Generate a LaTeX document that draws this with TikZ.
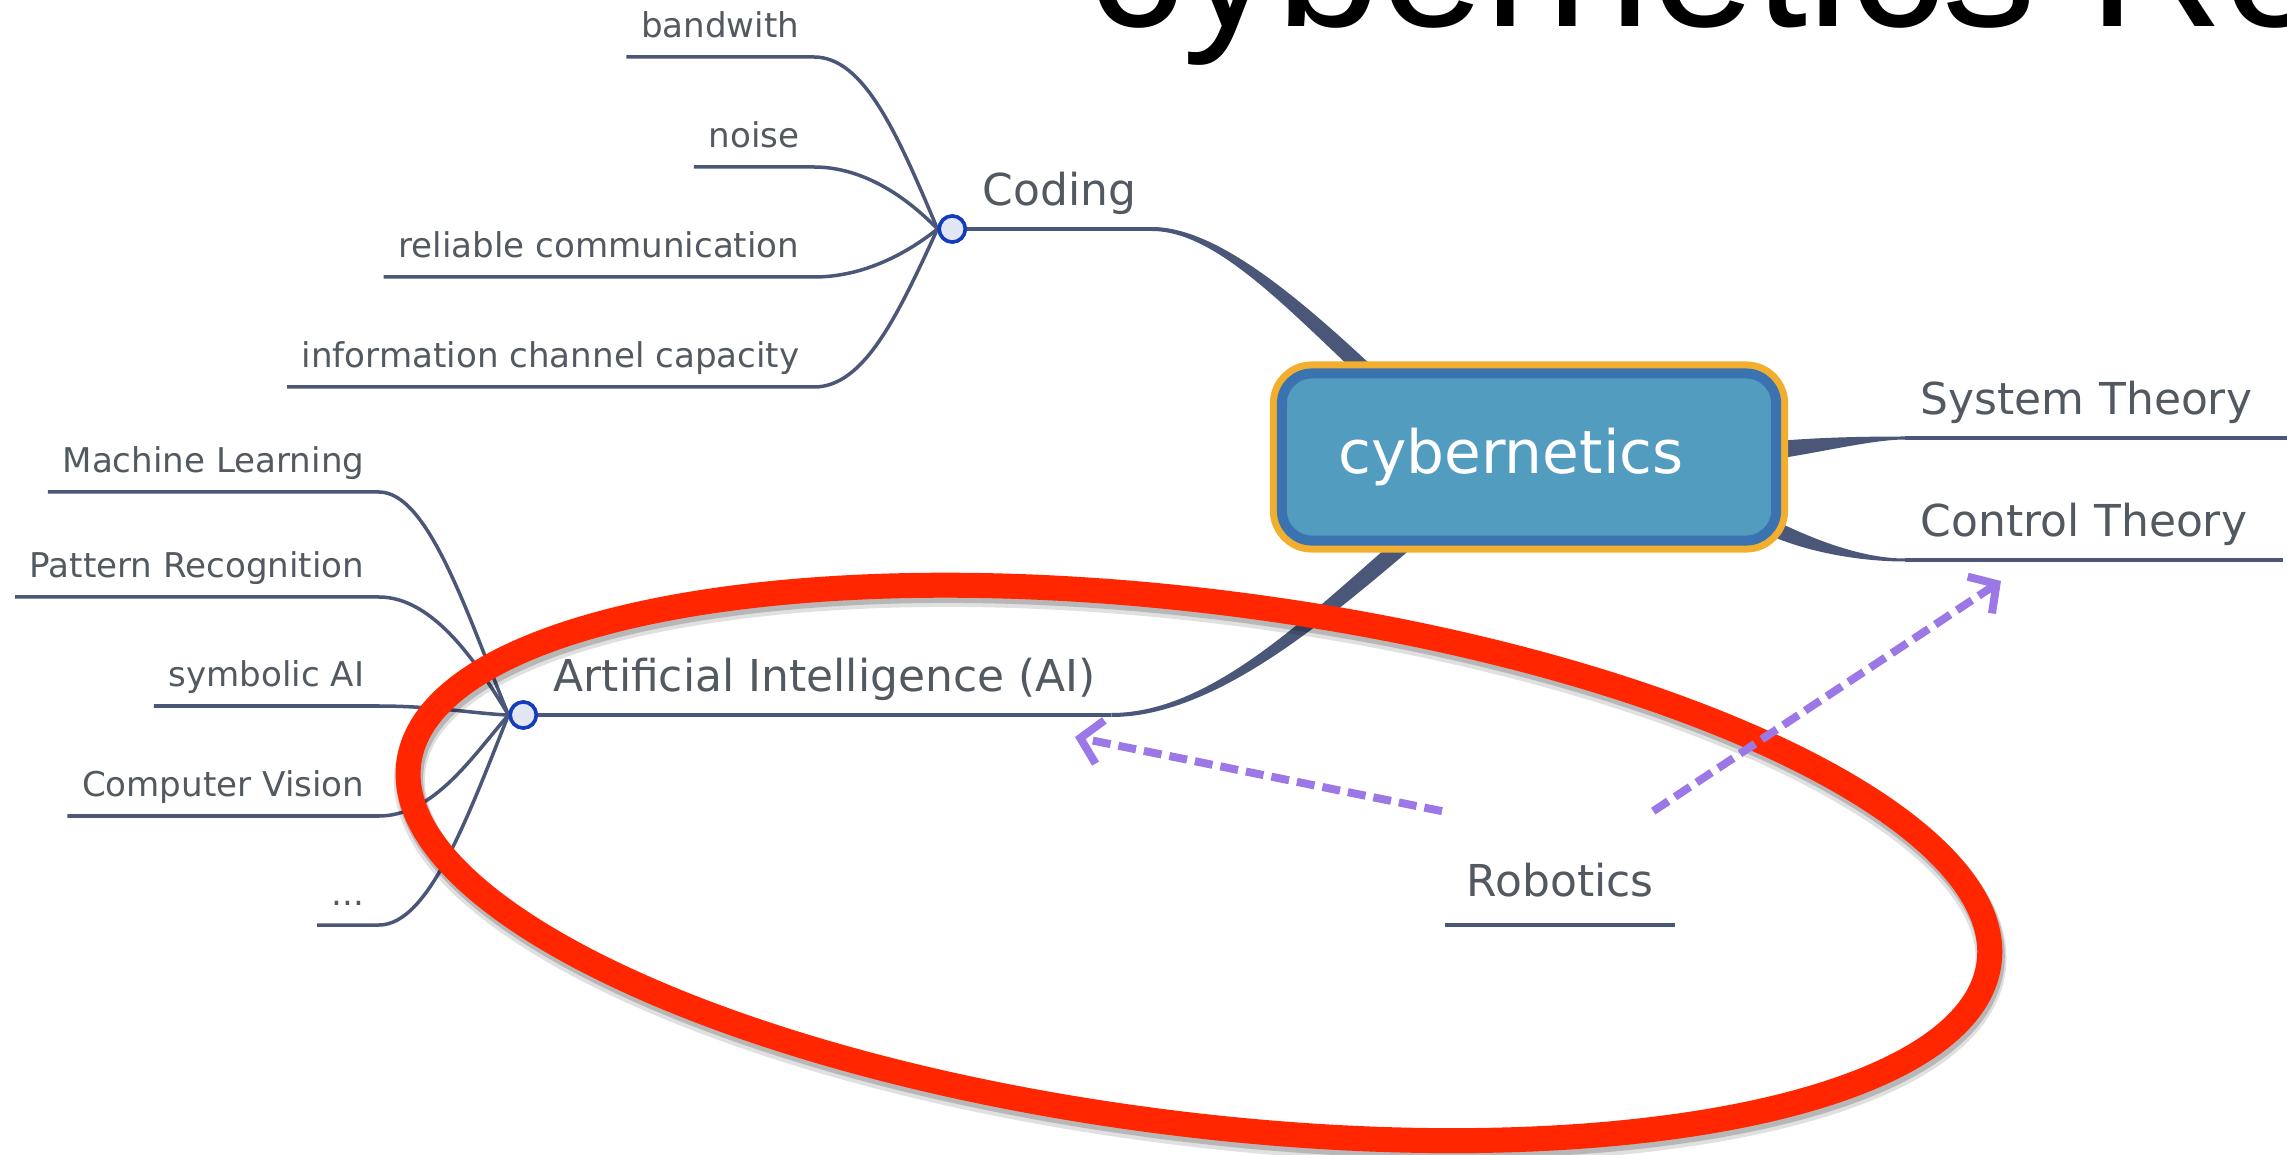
\documentclass[tikz,border=0pt]{standalone}
\usepackage{fontspec}
\setmainfont{DejaVu Sans}
\newfontfamily\headfont{Liberation Sans}
\usetikzlibrary{arrows.meta,calc}
\definecolor{limbcol}{RGB}{74,87,120}
\definecolor{labelcol}{RGB}{82,89,96}
\definecolor{dotblue}{RGB}{20,60,190}
\definecolor{dotfill}{RGB}{226,230,242}
\definecolor{hubfill}{RGB}{82,156,192}
\definecolor{hubblue}{RGB}{58,115,176}
\definecolor{huborange}{RGB}{242,174,46}
\definecolor{ringred}{RGB}{255,38,0}
\definecolor{hintviolet}{RGB}{156,119,230}
\tikzstyle{hub} = [rectangle, rounded corners=0.3cm, minimum width=4.94cm, minimum height=1.67cm, fill=hubfill, draw=hubblue, line width=0.1cm, preaction={draw=huborange, line width=0.24cm}, text=white, font=\fontsize{17}{20}\selectfont]
\tikzstyle{topic} = [text=labelcol, font=\fontsize{12.5}{15}\selectfont, text depth=0pt, inner ysep=0.225cm, inner xsep=0.15cm, anchor=south west]
\tikzstyle{leaf} = [text=labelcol, font=\fontsize{9.7}{12}\selectfont, text depth=0pt, inner ysep=0.185cm, inner xsep=0.14cm, anchor=south east]
\tikzstyle{fan} = [circle, draw=dotblue, fill=dotfill, line width=0.035cm, minimum size=0.26cm, inner sep=0pt]
\tikzset{twig/.style = {draw=limbcol, line width=0.035cm},
  hint/.style = {draw=hintviolet, line width=0.08cm, dash pattern=on 0.18cm off 0.08cm,
    -{Straight Barb[length=0.2cm,width=0.44cm]}},
  ring/.style = {draw=ringred, line width=0.25cm}
}
% tapered main branch: start, control, control, end, half width at start, half width at end
\newcommand{\branchline}[6]{%
  \fill[limbcol] ($(#1)!#5!90:(#2)$) .. controls ($(#2)!#5!-90:(#1)$) and ($(#3)!#6!90:(#4)$) .. ($(#4)!#6!-90:(#3)$)
    -- ($(#4)!#6!90:(#3)$) .. controls ($(#3)!#6!-90:(#4)$) and ($(#2)!#5!90:(#1)$) .. ($(#1)!#5!-90:(#2)$) -- cycle;}

\begin{document}
\begin{tikzpicture}[x=0.01cm, y=-0.01cm]
            \useasboundingbox (0,0) rectangle (2287,1155);
            \fill[white] (0,0) rectangle (2287,1155);

            % title
            \node[anchor=base west, inner sep=0pt, font=\headfont\fontsize{53.3}{60}\selectfont] (title) at (1088,27) {cybernetics Ro};

            % first level
            \node[topic] (coding) at (967,229) {Coding};
            \node[topic] (ai) at (538,715) {Artificial Intelligence (AI)};
            \node[topic, text width=3.7cm, align=left] (sys) at (1905,438) {System Theory};
            \node[topic, text width=3.46cm, align=left] (ctl) at (1905,560) {Control Theory};
            \node[topic, inner ysep=0.28cm, inner xsep=0.21cm] (rob) at (1445,925) {Robotics};

            % second level
            \node[leaf] (bw) at (814,57) {bandwith};
            \node[leaf] (noise) at (814,167) {noise};
            \node[leaf] (rel) at (814,277) {reliable communication};
            \node[leaf] (info) at (814,387) {information channel capacity};
            \node[leaf] (ml) at (379,492) {Machine Learning};
            \node[leaf] (pr) at (379,597) {Pattern Recognition};
            \node[leaf] (sym) at (379,706) {symbolic AI};
            \node[leaf] (cv) at (379,816) {Computer Vision};
            \node[leaf] (more) at (379,925) {...};

            % hub side ends
            \coordinate (hub-cod) at (1372,377);
            \coordinate (hub-ai) at (1420,530);
            \coordinate (hub-sys) at (1760,452);
            \coordinate (hub-ctl) at (1760,522);

            % main branches
            \branchline{coding.south east}{1215,229}{1290,300}{hub-cod}{0.02cm}{0.08cm}
            \branchline{ai.south east}{1215,715}{1320,615}{hub-ai}{0.02cm}{0.085cm}
            \branchline{sys.south west}{1870,438}{1810,446}{hub-sys}{0.015cm}{0.09cm}
            \branchline{ctl.south west}{1860,560}{1805,545}{hub-ctl}{0.015cm}{0.08cm}

            \node[hub] (cyb) at (1529,457) {\raisebox{-0.05cm}{cybernetics}\hspace*{0.36cm}};

            % underlines
            \draw[twig] (coding.south west) -- (coding.south east);
            \draw[twig] (ai.south west) -- (ai.south east);
            \draw[twig] (sys.south west) -- (sys.south east);
            \draw[twig] (ctl.south west) -- (ctl.south east);
            \draw[twig] (rob.south west) -- (rob.south east);

            % twigs
            \node[fan, anchor=east] (cdot) at (coding.south west) {};
            \node[fan, anchor=east] (adot) at (ai.south west) {};
            \draw[twig] (bw.south west) -- (bw.south east) .. controls +(50,0) and +(-40,-95) .. (cdot.west);
            \draw[twig] (noise.south west) -- (noise.south east) .. controls +(50,0) and +(-30,-31) .. (cdot.west);
            \draw[twig] (rel.south west) -- (rel.south east) .. controls +(50,0) and +(-30,24) .. (cdot.west);
            \draw[twig] (info.south west) -- (info.south east) .. controls +(50,0) and +(-40,87) .. (cdot.west);
            \draw[twig] (ml.south west) -- (ml.south east) .. controls +(50,0) and +(-40,-97) .. (adot.west);
            \draw[twig] (pr.south west) -- (pr.south east) .. controls +(55,0) and +(-30,-50) .. (adot.west);
            \draw[twig] (sym.south west) -- (sym.south east) .. controls +(55,0) and +(-30,-1) .. (adot.west);
            \draw[twig] (cv.south west) -- (cv.south east) .. controls +(55,0) and +(-35,40) .. (adot.west);
            \draw[twig] (more.south west) -- (more.south east) .. controls +(50,0) and +(-40,100) .. (adot.west);
            \node[fan, anchor=east] at (coding.south west) {};
            \node[fan, anchor=east] at (ai.south west) {};

            % red ring
            \coordinate (ring-c) at (1199,863);
            \draw[black, opacity=0.12, line width=0.31cm, rotate around={-7.2:(ring-c)}] ([shift={(2,6)}]ring-c) ellipse [x radius=7.96cm, y radius=2.61cm];
            \draw[black, opacity=0.18, line width=0.27cm, rotate around={-7.2:(ring-c)}] ([shift={(2,4)}]ring-c) ellipse [x radius=7.96cm, y radius=2.61cm];
            \draw[ring, rotate around={-7.2:(ring-c)}] (ring-c) ellipse [x radius=7.96cm, y radius=2.61cm];

            % robotics hints
            \coordinate (ai-tip) at (1075,737);
            \coordinate (ctl-tip) at (2001,581);
            \draw[hint] ([shift={(-3,-23)}]rob.north west) -- (ai-tip);
            \draw[hint] ([shift={(-22,-23)}]rob.north east) -- (ctl-tip);
\end{tikzpicture}
\end{document}
